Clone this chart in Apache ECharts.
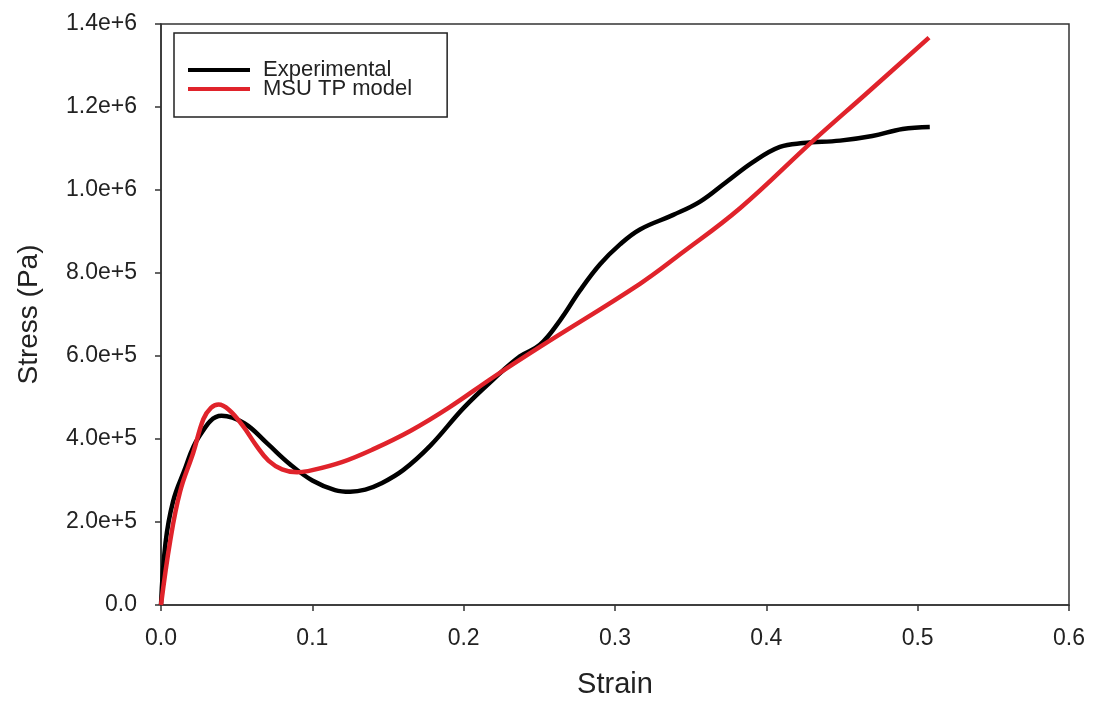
<!DOCTYPE html>
<html>
<head>
<meta charset="utf-8">
<script src="https://cdn.jsdelivr.net/npm/echarts@6/dist/echarts.min.js"></script>
<style>
  html, body { margin: 0; padding: 0; background: #fff; }
  #chart { width: 1094px; height: 704px; }
</style>
</head>
<body>
<div id="chart"></div>
<script>
// values
const expStrain = [0, 0.003, 0.008, 0.015, 0.025, 0.04, 0.055, 0.07, 0.085, 0.1, 0.115, 0.125, 0.135, 0.145, 0.16, 0.178, 0.2, 0.22, 0.2372, 0.2504, 0.2637, 0.2769, 0.2901, 0.3033, 0.3165, 0.3385, 0.3562, 0.3738, 0.3914, 0.409, 0.4244, 0.4487, 0.47, 0.49, 0.508];
const expStress = [0, 1.5e5, 2.5e5, 3.2e5, 4.05e5, 4.56e5, 4.38e5, 3.9e5, 3.4e5, 3.0e5, 2.77e5, 2.73e5, 2.78e5, 2.92e5, 3.25e5, 3.84e5, 4.75e5, 5.45e5, 5.99e5, 6.27e5, 6.86e5, 7.58e5, 8.21e5, 8.69e5, 9.05e5, 9.4e5, 9.72e5, 1.02e6, 1.068e6, 1.104e6, 1.113e6, 1.119e6, 1.13e6, 1.147e6, 1.152e6];

const modelStrain = [0, 0.006, 0.0126, 0.0214, 0.028, 0.033, 0.038, 0.045, 0.054, 0.063, 0.071, 0.08, 0.09, 0.1, 0.12, 0.14, 0.165, 0.19, 0.22, 0.2504, 0.3165, 0.343, 0.3826, 0.431, 0.466, 0.5075];
const modelStress = [0, 1.53e5, 2.73e5, 3.68e5, 4.48e5, 4.75e5, 4.83e5, 4.7e5, 4.32e5, 3.84e5, 3.48e5, 3.27e5, 3.2e5, 3.25e5, 3.45e5, 3.75e5, 4.2e5, 4.75e5, 5.5e5, 6.22e5, 7.74e5, 8.45e5, 9.56e5, 1.119e6, 1.232e6, 1.367e6];

const seriesNames = ['Experimental', 'MSU TP model'];

const font = 'Liberation Sans, Arial, sans-serif';
const pairs = (xs, ys) => xs.map((x, i) => [x, ys[i]]);

function sciLabel(v) {
    if (v === 0) return '0.0';
    const e = Math.floor(Math.log10(v) + 1e-9);
    return (v / Math.pow(10, e)).toFixed(1) + 'e+' + e;
}

const chart = echarts.init(document.getElementById('chart'), null, { renderer: 'canvas' });
chart.setOption({
    backgroundColor: '#fff',
    animation: false,
    grid: {
        left: 161, right: 25, top: 24, bottom: 93,
        show: true, borderColor: '#333', borderWidth: 1.5,
    },
    legend: {
        data: seriesNames,
        orient: 'vertical',
        left: 174, top: 33,
        padding: [26, 35, 17, 14],
        itemGap: -3,
        itemWidth: 62, itemHeight: 4,
        icon: 'rect',
        borderColor: '#222', borderWidth: 1.5,
        textStyle: { fontFamily: font, fontSize: 22, color: '#222', padding: [0, 0, 0, 8] },
    },
    xAxis: {
        type: 'value',
        min: 0, max: 0.6, interval: 0.1,
        name: 'Strain',
        nameLocation: 'middle',
        nameGap: 65,
        nameTextStyle: { fontFamily: font, fontSize: 29, color: '#222' },
        axisLine: { lineStyle: { color: '#333', width: 1.5 } },
        axisTick: { show: true, length: 6, lineStyle: { color: '#333', width: 1.5 } },
        axisLabel: { fontFamily: font, fontSize: 23, color: '#222', margin: 22, formatter: v => v.toFixed(1) },
        splitLine: { show: false },
    },
    yAxis: {
        type: 'value',
        min: 0, max: 1.4e6, interval: 2e5,
        name: 'Stress (Pa)',
        nameLocation: 'middle',
        nameGap: 118,
        nameTextStyle: { fontFamily: font, fontSize: 28, color: '#222' },
        axisLine: { show: true, lineStyle: { color: '#333', width: 1.5 } },
        axisTick: { show: true, length: 6, lineStyle: { color: '#333', width: 1.5 } },
        axisLabel: { fontFamily: font, fontSize: 23, color: '#222', margin: 24, formatter: sciLabel },
        splitLine: { show: false },
    },
    series: [
        {
            name: seriesNames[0],
            type: 'line',
            data: pairs(expStrain, expStress),
            smooth: 0.4,
            showSymbol: false,
            itemStyle: { color: '#000' },
            lineStyle: { color: '#000', width: 4.5 },
        },
        {
            name: seriesNames[1],
            type: 'line',
            data: pairs(modelStrain, modelStress),
            smooth: 0.4,
            showSymbol: false,
            itemStyle: { color: '#e0232b' },
            lineStyle: { color: '#e0232b', width: 4.5 },
        },
    ],
});
</script>
</body>
</html>
